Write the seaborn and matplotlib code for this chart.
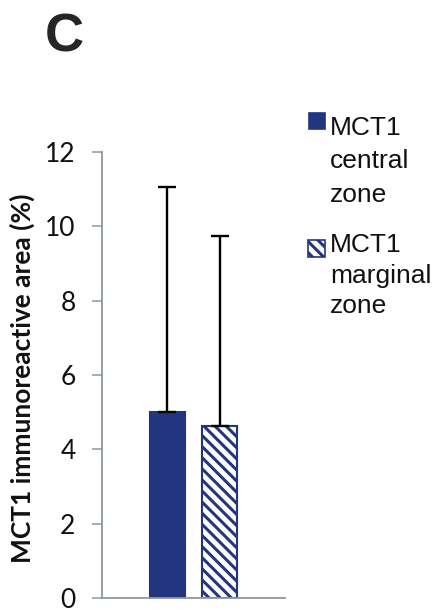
import matplotlib
matplotlib.use("Agg")
import matplotlib.pyplot as plt
import seaborn as sns
import pandas as pd
from matplotlib.patches import Rectangle

# ---- data ----
group = ["MCT1", "MCT1"]
zones = ["MCT1 central zone", "MCT1 marginal zone"]
means = [5.01, 4.64]
sds = [6.06, 5.11]
yticks = [0, 2, 4, 6, 8, 10, 12]
legend_lines = [["MCT1", "central", "zone"], ["MCT1", "marginal", "zone"]]

BLUE = "#24357F"
GRAY = "#8F989F"
HATCH = "\\\\\\"

sns.set_style("white")
plt.rcParams["hatch.linewidth"] = 2.2

df = pd.DataFrame({"group": group, "zone": zones, "value": means})

fig = plt.figure(figsize=(4.42, 6.12), dpi=100)
ax = fig.add_axes([102 / 442, 1 - 598 / 612, 183 / 442, 446 / 612])

sns.barplot(data=df, x="group", y="value", hue="zone", palette=[BLUE, BLUE],
            width=0.574, gap=0.334, dodge=True, errorbar=None, legend=False,
            edgecolor=BLUE, linewidth=1.5, ax=ax, saturation=1)

bars = sorted([p for p in ax.patches if isinstance(p, Rectangle) and p.get_width() > 0],
              key=lambda p: p.get_x())
bars[1].set_facecolor("white")
bars[1].set_hatch(HATCH)
bars[1].set_edgecolor(BLUE)

centers = [b.get_x() + b.get_width() / 2 for b in bars]
ax.errorbar(centers, means, yerr=[[0, 0], sds], fmt="none", ecolor="black",
            elinewidth=1.7, capsize=6.5, capthick=1.7, zorder=1)

ax.set_xlim(-0.5, 0.5)
ax.set_ylim(0, 12)
ax.set_yticks(yticks)
ax.set_yticklabels([str(t) for t in yticks], fontsize=19, family="Lato", color="#111111")
ax.set_xticks([])
ax.set_xlabel("")
ax.tick_params(axis="y", direction="out", length=7, width=1.1, color=GRAY, pad=12, left=True)
for s in ["top", "right"]:
    ax.spines[s].set_visible(False)
for s in ["left", "bottom"]:
    ax.spines[s].set_color(GRAY)
    ax.spines[s].set_linewidth(1.3)

ax.set_ylabel("MCT1 immunoreactive area (%)", fontsize=19, family="Lato",
              fontweight="bold", color="#111111")
ax.yaxis.set_label_coords(-0.366, 0.493)

# panel letter
fig.text(45 / 442, 1 - 51 / 612, "C", fontsize=39, fontweight="bold",
         family="Liberation Sans", va="baseline", ha="left")

# legend (manual)
sq = [(309, 113, 16), (308, 240, 17)]
baselines = [[135, 168.5, 202], [252, 282.5, 313]]
for i in range(2):
    x0, y0, s = sq[i]
    r = Rectangle((x0 / 442, 1 - (y0 + s) / 612), s / 442, s / 612,
                  transform=fig.transFigure, facecolor=BLUE if i == 0 else "white",
                  edgecolor=BLUE, linewidth=1.2, hatch=None if i == 0 else HATCH)
    fig.patches.append(r)
    for line, yb in zip(legend_lines[i], baselines[i]):
        fig.text(330 / 442, 1 - yb / 612, line, fontsize=19, family="Liberation Sans",
                 va="baseline", ha="left", color="#111111")

fig.savefig("out.png", dpi=100)
